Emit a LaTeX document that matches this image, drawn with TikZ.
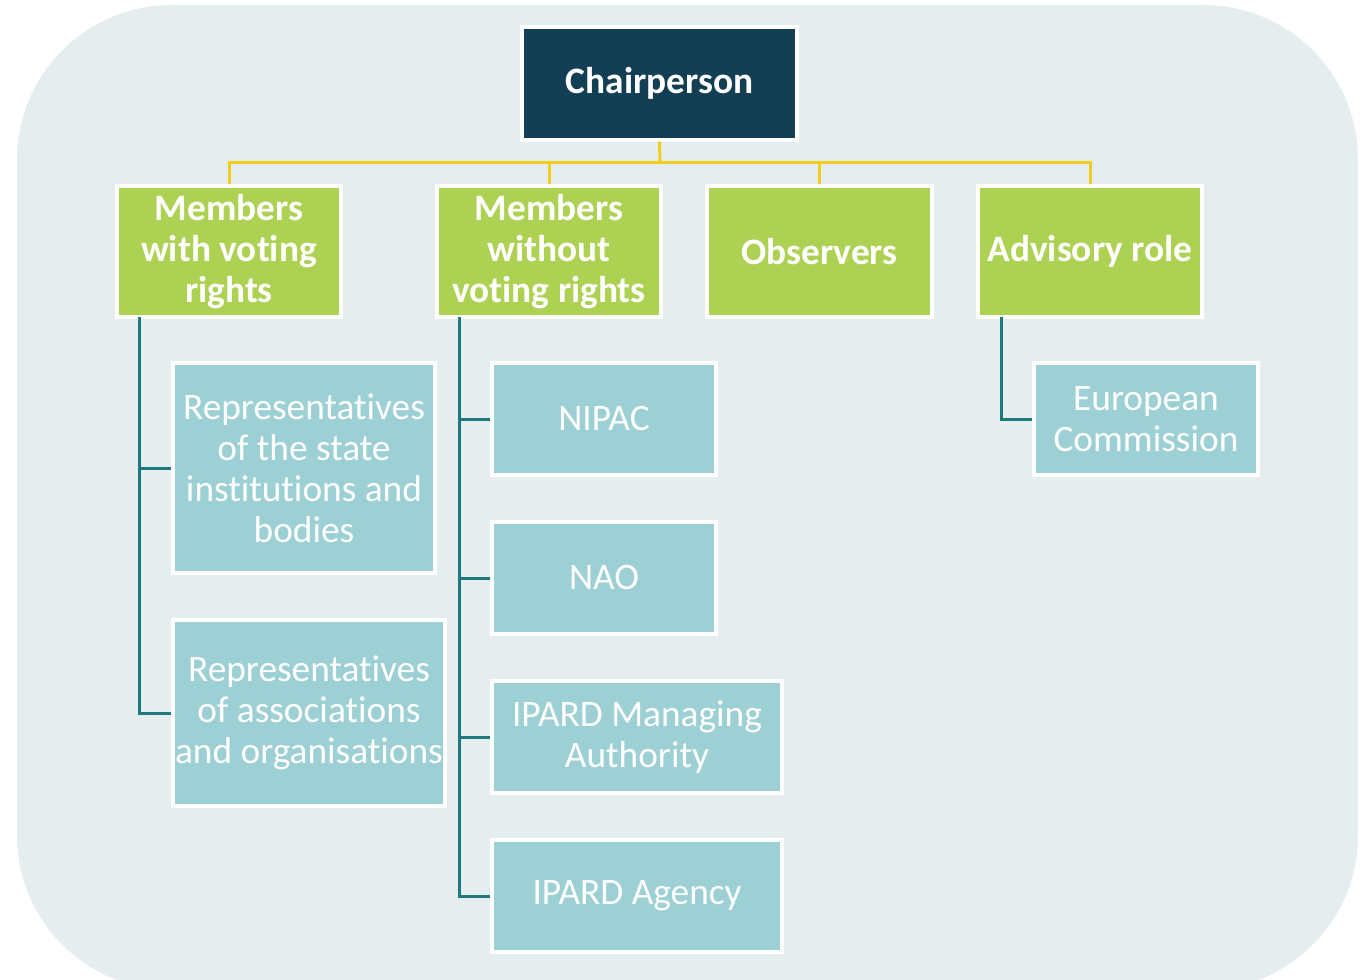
\documentclass[tikz,border=0pt]{standalone}
\usepackage{fontspec}
\setmainfont{Carlito}[Ligatures=NoCommon]
\definecolor{bgc}{HTML}{E5EDEF}
\definecolor{navy}{HTML}{133F55}
\definecolor{grn}{HTML}{ADD152}
\definecolor{tealfill}{HTML}{9DD0D4}
\definecolor{tealline}{HTML}{1D7A7A}
\definecolor{ylw}{HTML}{F2CE1A}
\begin{document}
\begin{tikzpicture}[x=0.75pt,y=-0.75pt,
  box/.style={draw=white,line width=2.5pt,align=center,text=white,inner sep=0pt,
    font=\fontsize{28}{30.75}\selectfont},
  chairbox/.style={box,fill=navy,font=\fontsize{28}{30.75}\selectfont\bfseries},
  grnbox/.style={box,fill=grn,minimum width={224*0.75pt},minimum height={131*0.75pt},font=\fontsize{28}{30.75}\selectfont\bfseries},
  tbox/.style={box,fill=tealfill,minimum width={224*0.75pt},minimum height={112*0.75pt}},
  yline/.style={draw=ylw,line width=2.25pt},
  tline/.style={draw=tealline,line width=2.25pt}]
\useasboundingbox (0,0) rectangle (1372,979);
\fill[bgc,rounded corners=116pt] (17,5) rectangle (1358,990);
% nodes
\node[chairbox,minimum width={275*0.75pt},minimum height={113*0.75pt}] (chair) at (659.5,83.5) {Chairperson};
\node[grnbox] (g1) at (229,251.5) {Members\\with voting\\rights};
\node[grnbox] (g2) at (549,251.5) {Members\\without\\voting rights};
\node[grnbox,minimum width={225*0.75pt}] (g3) at (819.5,251.5) {Observers};
\node[grnbox] (g4) at (1090,251.5) {Advisory role};
\node[tbox,minimum width={262*0.75pt},minimum height={210*0.75pt}] (rs) at (304,468) {Representatives\\of the state\\institutions and\\bodies};
\node[tbox,minimum width={272*0.75pt},minimum height={186*0.75pt}] (ra) at (309,713) {Representatives\\of associations\\and organisations};
\node[tbox] (nipac) at (604,419) {NIPAC};
\node[tbox] (nao) at (604,578) {NAO};
\node[tbox,minimum width={290*0.75pt}] (ma) at (637,737) {IPARD Managing\\Authority};
\node[tbox,minimum width={290*0.75pt}] (ag) at (637,896) {IPARD Agency};
\node[tbox] (ec) at (1146,419) {European\\Commission};
% yellow connectors
\coordinate (ybar) at (660,162);
\draw[yline] (chair.south) -- (ybar);
\draw[yline] (g1.north) |- (ybar);
\draw[yline] (g4.north) |- (ybar);
\draw[yline] (g2.north) -- (g2.north |- ybar);
\draw[yline] (g3.north) -- (g3.north |- ybar);
% teal connectors
\coordinate (t1) at (139,317);
\coordinate (t2) at (459,317);
\coordinate (t4) at (1001,317);
\draw[tline] (t1) |- (ra.west);
\draw[tline] (t1 |- rs.west) -- (rs.west);
\draw[tline] (t2) |- (ag.west);
\draw[tline] (t2 |- nipac.west) -- (nipac.west);
\draw[tline] (t2 |- nao.west) -- (nao.west);
\draw[tline] (t2 |- ma.west) -- (ma.west);
\draw[tline] (t4) |- (ec.west);
\end{tikzpicture}
\end{document}
